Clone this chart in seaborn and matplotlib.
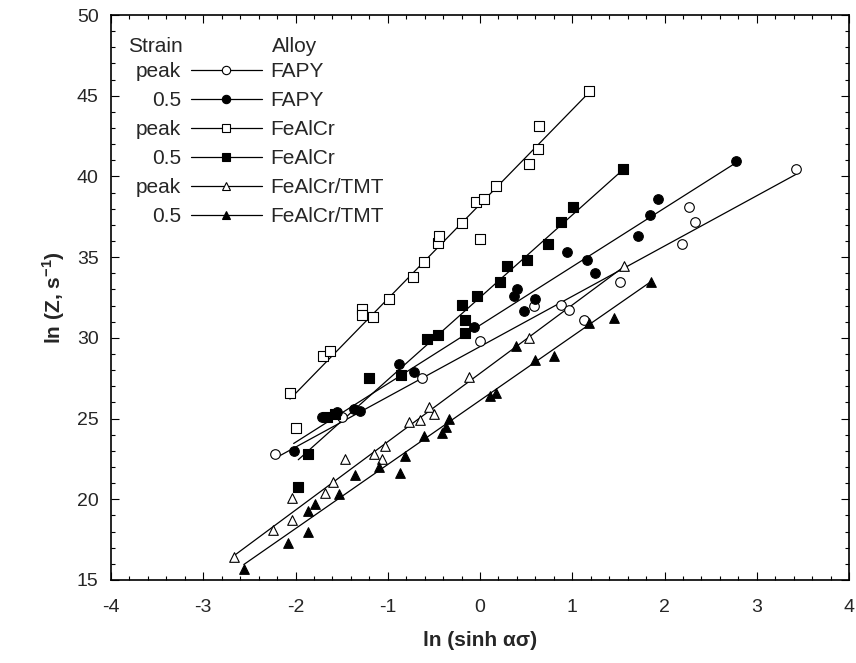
import numpy as np
import matplotlib
matplotlib.use("Agg")
import matplotlib.pyplot as plt
from matplotlib.lines import Line2D
from matplotlib.ticker import MultipleLocator
import seaborn as sns

# ln(sinh(alpha*sigma)) vs ln(Z)
fapy_peak_x = [-2.22, -1.50, -0.63, 0.00, 0.58, 0.88, 0.97, 1.13, 1.52, 2.19, 2.27, 2.33, 3.43]
fapy_peak_y = [22.8, 25.1, 27.5, 29.8, 31.95, 32.06, 31.75, 31.1, 33.45, 35.8, 38.1, 37.2, 40.46]

fapy_05_x = [-2.02, -1.71, -1.55, -1.37, -1.30, -0.88, -0.72, -0.07, 0.37, 0.40, 0.60, 0.48,
             0.94, 1.16, 1.25, 1.71, 1.84, 1.93, 2.78]
fapy_05_y = [23.0, 25.1, 25.4, 25.6, 25.5, 28.4, 27.9, 30.7, 32.6, 33.0, 32.4, 31.65,
             35.3, 34.8, 34.0, 36.3, 37.6, 38.6, 40.96]

fealcr_peak_x = [-2.06, -2.00, -1.70, -1.63, -1.28, -1.28, -1.16, -0.99, -0.73, -0.61, -0.45,
                 -0.44, -0.19, 0.00, -0.04, 0.04, 0.17, 0.53, 0.63, 0.64, 1.18]
fealcr_peak_y = [26.6, 24.4, 28.9, 29.2, 31.8, 31.4, 31.3, 32.4, 33.8, 34.7, 35.9,
                 36.3, 37.1, 36.1, 38.4, 38.6, 39.4, 40.75, 41.7, 43.1, 45.3]

fealcr_05_x = [-1.97, -1.86, -1.66, -1.57, -1.20, -0.86, -0.57, -0.46, -0.19, -0.16, -0.16,
               -0.03, 0.22, 0.29, 0.51, 0.74, 0.88, 1.01, 1.55]
fealcr_05_y = [20.75, 22.8, 25.1, 25.3, 27.5, 27.7, 29.9, 30.2, 32.06, 31.1, 30.3,
               32.6, 33.45, 34.45, 34.8, 35.8, 37.2, 38.1, 40.46]

tmt_peak_x = [-2.67, -2.24, -2.04, -2.04, -1.68, -1.59, -1.46, -1.15, -1.06, -1.03, -0.77,
              -0.65, -0.55, -0.50, -0.12, 0.53, 1.56]
tmt_peak_y = [16.4, 18.1, 18.7, 20.1, 20.4, 21.1, 22.5, 22.8, 22.5, 23.3, 24.8,
              24.9, 25.7, 25.3, 27.6, 30.0, 34.45]

tmt_05_x = [-2.56, -2.08, -1.86, -1.86, -1.79, -1.53, -1.35, -1.10, -0.87, -0.81, -0.61,
            -0.41, -0.37, -0.34, 0.11, 0.17, 0.39, 0.60, 0.80, 1.18, 1.45, 1.85]
tmt_05_y = [15.7, 17.3, 18.0, 19.25, 19.7, 20.3, 21.5, 22.0, 21.6, 22.7, 23.9,
            24.1, 24.5, 25.0, 26.4, 26.6, 29.5, 28.6, 28.9, 30.9, 31.2, 33.45]

strains = ["peak", "0.5", "peak", "0.5", "peak", "0.5"]
alloys = ["FAPY", "FAPY", "FeAlCr", "FeAlCr", "FeAlCr/TMT", "FeAlCr/TMT"]
xs_all = [fapy_peak_x, fapy_05_x, fealcr_peak_x, fealcr_05_x, tmt_peak_x, tmt_05_x]
ys_all = [fapy_peak_y, fapy_05_y, fealcr_peak_y, fealcr_05_y, tmt_peak_y, tmt_05_y]
markers = ["o", "o", "s", "s", "^", "^"]
faces = ["white", "black", "white", "black", "white", "black"]


def main():
    sns.set_style("ticks")
    plt.rcParams["font.family"] = ["Liberation Sans", "DejaVu Sans"]
    plt.rcParams["mathtext.fontset"] = "custom"
    plt.rcParams["mathtext.rm"] = "Liberation Sans"
    plt.rcParams["mathtext.bf"] = "Liberation Sans:bold"
    plt.rcParams["axes.unicode_minus"] = False

    fig = plt.figure(figsize=(8.56, 6.63), dpi=100)
    ax = fig.add_axes([111 / 856, 1 - 580 / 663, 738 / 856, 565 / 663])

    handles = []
    for xs, ys, mk, fc in zip(xs_all, ys_all, markers, faces):
        sns.regplot(x=np.array(xs), y=np.array(ys), ax=ax, ci=None, marker=mk,
                    color="black", truncate=True,
                    scatter_kws=dict(s=48, facecolors=fc, edgecolors="black",
                                     linewidths=0.8, alpha=1, zorder=3),
                    line_kws=dict(lw=0.9, zorder=2))
        handles.append(Line2D([], [], color="black", lw=0.9, marker=mk,
                              markersize=6, markerfacecolor=fc,
                              markeredgecolor="black", markeredgewidth=0.8))

    ax.set_xlim(-4, 4)
    ax.set_ylim(15, 50)
    ax.xaxis.set_major_locator(MultipleLocator(1))
    ax.xaxis.set_minor_locator(MultipleLocator(0.2))
    ax.yaxis.set_major_locator(MultipleLocator(5))
    ax.yaxis.set_minor_locator(MultipleLocator(1))
    ax.tick_params(which="both", direction="in", top=True, right=True,
                   color="black", width=0.8)
    ax.tick_params(which="major", length=6, labelsize=14)
    ax.tick_params(which="minor", length=3)
    ax.tick_params(axis="x", pad=14)
    ax.tick_params(axis="y", pad=9)
    for sp in ax.spines.values():
        sp.set_linewidth(1.2)
        sp.set_color("black")

    ax.set_xlabel("ln (sinh ασ)", fontsize=15, fontweight="bold")
    ax.set_ylabel(r"ln (Z, s$^{\mathbf{-1}}$)", fontsize=15, fontweight="bold")
    ax.xaxis.set_label_coords(0.5, -0.09)
    ax.yaxis.set_label_coords(-0.06, 0.5)

    leg = ax.legend(handles, alloys, loc="upper left",
                    bbox_to_anchor=(0.108, 0.916), frameon=False, fontsize=15,
                    handlelength=3.4, handletextpad=0.4, labelspacing=0.48,
                    borderpad=0, borderaxespad=0)

    ax.text(0.023, 0.944, "Strain", transform=ax.transAxes, fontsize=15,
            ha="left", va="center")
    ax.text(0.218, 0.944, "Alloy", transform=ax.transAxes, fontsize=15,
            ha="left", va="center")

    fig.canvas.draw()
    inv = ax.transAxes.inverted()
    for txt, strain in zip(leg.get_texts(), strains):
        bb = txt.get_window_extent()
        _, yc = inv.transform(((bb.x0 + bb.x1) / 2, (bb.y0 + bb.y1) / 2))
        ax.text(0.095, yc, strain, transform=ax.transAxes, fontsize=15,
                ha="right", va="center")

    fig.savefig("out.png", dpi=100)
    plt.close("all")


if __name__ == "__main__":
    main()
